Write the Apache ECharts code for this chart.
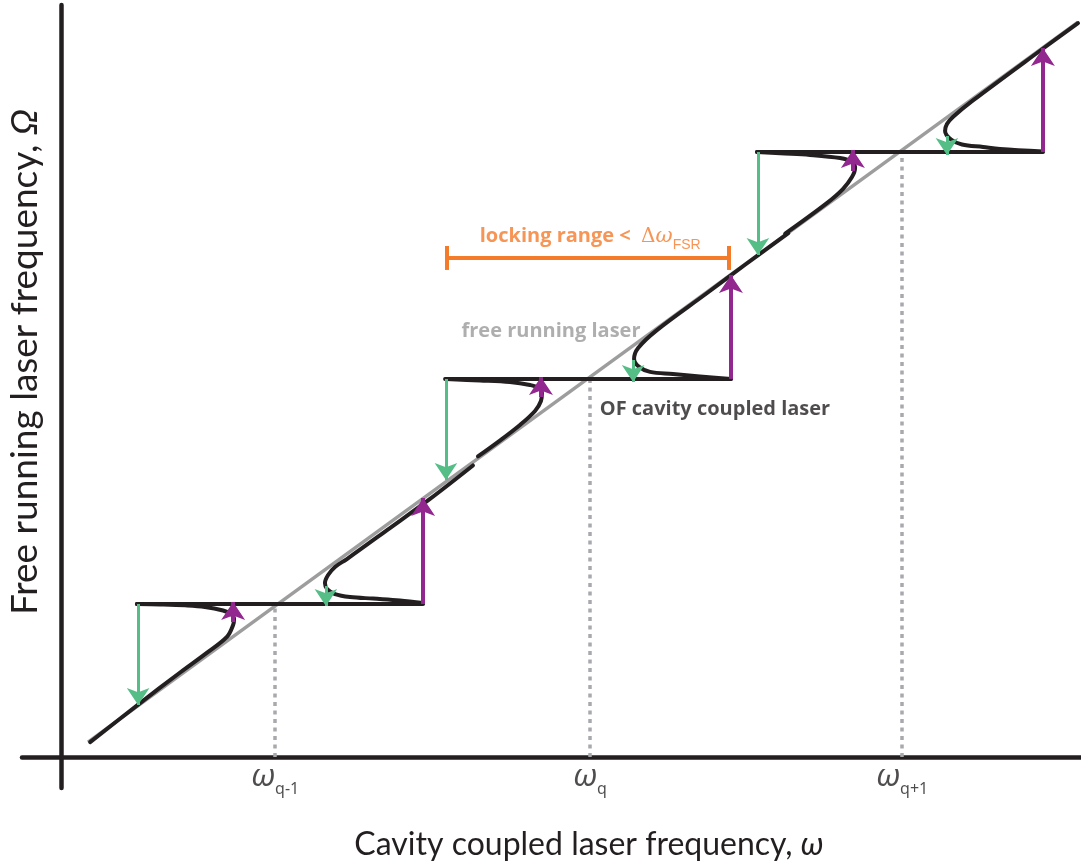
<!DOCTYPE html>
<html>
<head>
<meta charset="utf-8">
<script src="https://cdn.jsdelivr.net/npm/echarts@6/dist/echarts.min.js"></script>
<style>
html,body{margin:0;padding:0;background:#fff;}
#chart{width:1081px;height:864px;}
</style>
</head>
<body>
<div id="chart"></div>
<script>
// ---- data (arbitrary frequency units; free running line is Ω ≈ ω) ----
const modeOmega = [6.83, 16.87, 26.83];          // ω_{q-1}, ω_q, ω_{q+1}
const modeSubs = ['q-1', 'q', 'q+1'];
const plateauLevel = [6.77, 16.72, 26.77];       // locked Ω level of each mode
const plateauStart = [2.42, 12.25, 22.20];
const plateauEnd = [11.55, 21.37, 31.32];

const freeRunning = [[0.86, 0.66], [32.44, 32.52]];

const lowerBranch1 = [[0.93,0.66],[2.46,2.32],[3.80,3.74],[4.66,4.62],[5.30,5.33],[5.49,5.84],[5.52,6.11],[5.42,6.33],[5.17,6.48],[4.59,6.64],[3.96,6.71],[3.16,6.75],[2.42,6.77]];
const upperBranch1 = [[11.55,6.81],[10.81,6.93],[9.95,7.01],[9.22,7.08],[8.74,7.21],[8.49,7.43],[8.42,7.70],[8.52,8.05],[8.74,8.41],[9.12,8.76],[10.40,10.04],[11.77,11.42],[13.14,12.90]];
const lowerBranch2 = [[13.30,13.30],[14.00,14.00],[14.64,14.69],[15.12,15.31],[15.31,15.75],[15.34,16.11],[15.25,16.33],[14.96,16.46],[14.32,16.59],[13.37,16.66],[12.28,16.72]];
const upperBranch2 = [[21.37,16.73],[20.38,16.84],[19.52,16.95],[18.79,17.04],[18.44,17.26],[18.28,17.61],[18.41,18.10],[19.01,18.89],[20.61,20.53],[21.82,21.78],[23.20,23.18]];
const lowerBranch3 = [[23.10,23.16],[24.43,24.51],[24.94,25.13],[25.23,25.66],[25.33,26.06],[25.23,26.33],[24.85,26.50],[23.89,26.64],[22.94,26.71],[22.20,26.77]];
const upperBranch3 = [[31.32,26.79],[29.95,26.90],[29.41,26.99],[28.74,27.10],[28.39,27.32],[28.20,27.70],[28.26,28.01],[28.45,28.32],[29.09,29.05],[31.23,31.25],[32.44,32.47]];

// arrows: [x, fromY, toY(tip)]
const greenBig = [[2.46, 6.77, 2.30], [12.28, 16.72, 12.26], [22.23, 26.77, 22.21]];
const greenSmall = [[8.45, 7.57, 6.68], [18.25, 17.57, 16.59], [28.26, 27.48, 26.64]];
const purpleBig = [[11.55, 6.77, 11.46], [21.37, 16.73, 21.33], [31.32, 26.77, 31.37]];
const purpleSmall = [[5.49, 5.97, 6.86], [15.31, 15.93, 16.81], [25.26, 25.93, 26.86]];

// locking range bracket
const lockingRange = [12.31, 21.31];
const lockingLevel = 22.08;
const lockingCap = 0.53;

// annotation anchor points [x, y]
const freeRunningLabelAt = [15.63, 18.85];
const coupledLabelAt = [20.86, 15.40];
const lockingLabelAt = [16.88, 23.02];

// ---- chart ----
const BLACK = '#231f20';
const GRAY = '#9d9d9d';
const GREEN = '#55be87';
const PURPLE = '#92278f';
const ORANGE = '#f47b2a';

const chart = echarts.init(document.getElementById('chart'), null, {renderer: 'canvas'});

function curve(data) {
  return {type: 'line', data: data, smooth: 0.35, symbol: 'none', z: 4,
    lineStyle: {color: BLACK, width: 4, cap: 'round', join: 'round'}, silent: true};
}
function arrowSeries(list, color, width, size) {
  return {type: 'lines', coordinateSystem: 'cartesian2d', z: 6, silent: true,
    symbol: ['none', 'arrow'], symbolSize: size, symbolOffset: [0, size / 2],
    lineStyle: {color: color, width: width, opacity: 1, curveness: 0},
    data: list.map(a => ({coords: [[a[0], a[1]], [a[0], a[2]]]}))};
}

const option = {
  animation: false,
  backgroundColor: '#ffffff',
  grid: {left: 22, right: 0, top: 5, bottom: 76},
  xAxis: {
    type: 'value', min: -1.244, max: 32.536,
    axisLine: {onZero: true, lineStyle: {color: BLACK, width: 4.5}},
    axisTick: {show: false}, splitLine: {show: false}, axisLabel: {show: false}
  },
  yAxis: {
    type: 'value', min: -1.372, max: 33.274,
    axisLine: {onZero: true, lineStyle: {color: BLACK, width: 4.5}},
    axisTick: {show: false}, splitLine: {show: false}, axisLabel: {show: false}
  },
  graphic: [
    {type: 'text', x: 589, y: 845, z: 10, style: {
      text: '{a|Cavity coupled laser frequency, }{b|ω}', align: 'center', verticalAlign: 'middle',
      rich: {
        a: {fontFamily: 'Lato', fontWeight: 'normal', fontSize: 32, fill: BLACK},
        b: {fontFamily: 'Lato', fontStyle: 'italic', fontWeight: 'normal', fontSize: 32, fill: BLACK}
      }}},
    {type: 'text', x: 25, y: 362, rotation: Math.PI / 2, z: 10, style: {
      text: '{a|Free running laser frequency, }{b|Ω}', align: 'center', verticalAlign: 'middle',
      rich: {
        a: {fontFamily: 'Lato', fontWeight: 'normal', fontSize: 37, fill: BLACK},
        b: {fontFamily: 'Lato', fontStyle: 'italic', fontWeight: 'normal', fontSize: 37, fill: BLACK}
      }}}
  ],
  series: [
    // dotted mode markers
    {type: 'lines', coordinateSystem: 'cartesian2d', z: 1, silent: true,
      lineStyle: {color: '#a7a9ac', width: 3.5, type: [4, 4.5], opacity: 1},
      data: modeOmega.map((m, i) => ({coords: [[m, 0], [m, plateauLevel[i]]]}))},
    // free running laser
    {type: 'line', data: freeRunning, symbol: 'none', z: 2, silent: true,
      lineStyle: {color: GRAY, width: 3.5}},
    // OF cavity coupled laser
    curve(lowerBranch1), curve(upperBranch1),
    curve(lowerBranch2), curve(upperBranch2),
    curve(lowerBranch3), curve(upperBranch3),
    {type: 'lines', coordinateSystem: 'cartesian2d', z: 4, silent: true,
      lineStyle: {color: BLACK, width: 4, opacity: 1, cap: 'round'},
      data: plateauLevel.map((lv, i) => ({coords: [[plateauStart[i], lv], [plateauEnd[i], lv]]}))},
    // arrows
    arrowSeries(greenBig, GREEN, 3, 17),
    arrowSeries(greenSmall, GREEN, 3, 17),
    arrowSeries(purpleBig, PURPLE, 4, 18),
    arrowSeries(purpleSmall, PURPLE, 4, 18),
    // locking range bracket
    {type: 'lines', coordinateSystem: 'cartesian2d', z: 5, silent: true,
      lineStyle: {color: ORANGE, width: 4, opacity: 1},
      data: [
        {coords: [[lockingRange[0], lockingLevel], [lockingRange[1], lockingLevel]]},
        {coords: [[lockingRange[0], lockingLevel - lockingCap], [lockingRange[0], lockingLevel + lockingCap]]},
        {coords: [[lockingRange[1], lockingLevel - lockingCap], [lockingRange[1], lockingLevel + lockingCap]]}
      ]},
    // mode frequency labels on the ω axis
    {type: 'scatter', symbolSize: 0, z: 8, silent: true,
      data: modeOmega.map(m => [m, 0]),
      label: {show: true, position: 'bottom', distance: 0,
        formatter: function (p) { return '{w|ω}{s|' + modeSubs[p.dataIndex] + '}'; },
        rich: {
          w: {fontFamily: 'Noto Sans', fontStyle: 'italic', fontSize: 31, color: BLACK, lineHeight: 40, verticalAlign: 'middle'},
          s: {fontFamily: 'Noto Sans', fontSize: 16, color: BLACK, lineHeight: 16, verticalAlign: 'bottom'}
        }}},
    // annotations
    {type: 'scatter', symbolSize: 0, z: 8, silent: true,
      label: {show: true, position: 'inside'},
      data: [
        {value: freeRunningLabelAt, label: {formatter: 'free running laser', color: '#9a9a9a',
          fontFamily: 'Open Sans', fontWeight: 'bold', fontSize: 20}},
        {value: coupledLabelAt, label: {formatter: 'OF cavity coupled laser', color: BLACK,
          fontFamily: 'Open Sans', fontWeight: 'bold', fontSize: 20}},
        {value: lockingLabelAt, label: {
          formatter: '{t|locking range <  }{d|Δ}{w|ω}{s|FSR}',
          rich: {
            t: {fontFamily: 'Open Sans', fontWeight: 'bold', fontSize: 20, color: ORANGE, lineHeight: 30, verticalAlign: 'middle'},
            d: {fontFamily: 'DejaVu Serif', fontSize: 20, color: ORANGE, lineHeight: 30, verticalAlign: 'middle'},
            w: {fontFamily: 'DejaVu Serif', fontStyle: 'italic', fontSize: 21, color: ORANGE, lineHeight: 30, verticalAlign: 'middle'},
            s: {fontFamily: 'Liberation Sans', fontSize: 14, color: ORANGE, lineHeight: 14, verticalAlign: 'bottom'}
          }}}
      ]}
  ]
};
chart.setOption(option);
</script>
</body>
</html>
